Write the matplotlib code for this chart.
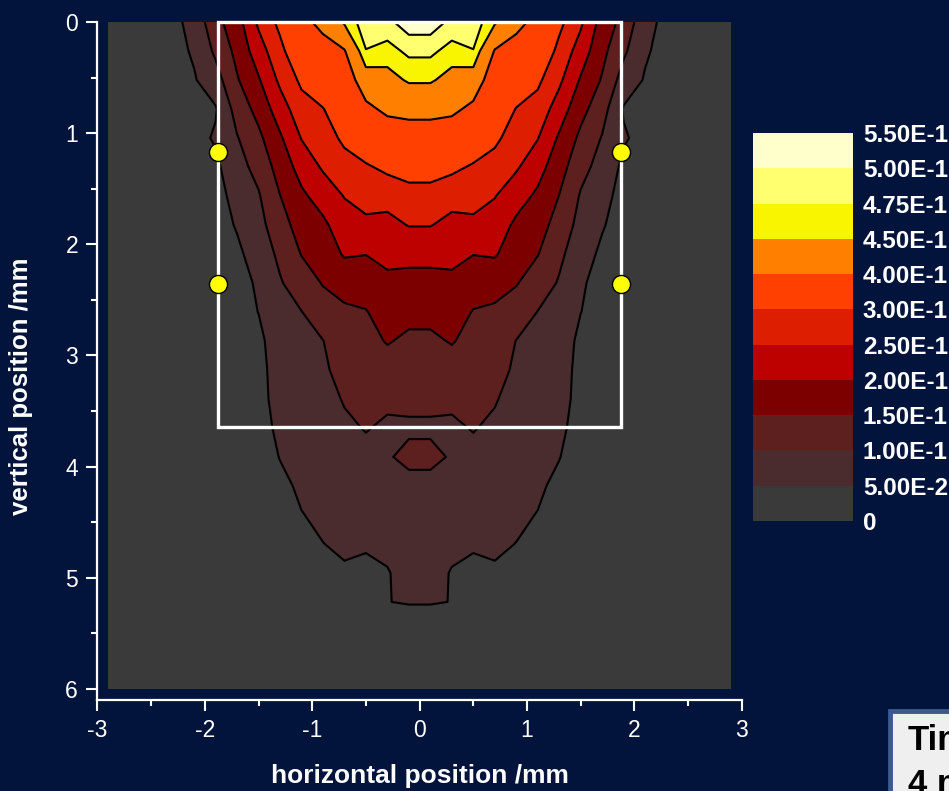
import matplotlib.pyplot as plt
import numpy as np
from matplotlib.patches import Rectangle
from matplotlib.ticker import MultipleLocator

plt.rcParams['font.family'] = ['Liberation Sans', 'DejaVu Sans']
plt.rcParams['axes.unicode_minus'] = False

# scan grid: 30 columns across (mm), 24 rows down (mm)
x_pos = np.linspace(-2.9, 2.9, 30)
y_pos = np.linspace(0, 6, 24)

# depth profiles of the right half, one list per column x = 0.1, 0.3 ... 2.9 mm
right_cols = [
    [0.515, 0.481, 0.454, 0.417, 0.371, 0.321, 0.282, 0.252, 0.2135, 0.185, 0.162, 0.142,
     0.125, 0.108, 0.095, 0.108, 0.090, 0.081, 0.0719, 0.061, 0.052, 0.030, 0.024, 0.018],
    [0.493, 0.465, 0.438, 0.411, 0.367, 0.3115, 0.267, 0.236, 0.212, 0.190, 0.172, 0.153,
     0.131, 0.107, 0.094, 0.097, 0.0755, 0.0664, 0.0572, 0.0481, 0.0495, 0.029, 0.023, 0.017],
    [0.490, 0.474, 0.431, 0.388, 0.338, 0.294, 0.268, 0.2395, 0.201, 0.1725, 0.1476, 0.136,
     0.125, 0.1134, 0.102, 0.090, 0.078, 0.0658, 0.0538, 0.0417, 0.035, 0.028, 0.022, 0.016],
    [0.455, 0.397, 0.368, 0.339, 0.310, 0.281, 0.252, 0.228, 0.205, 0.167, 0.1423, 0.129,
     0.116, 0.103, 0.093, 0.0835, 0.074, 0.0648, 0.0555, 0.046, 0.038, 0.030, 0.024, 0.018],
    [0.417, 0.376, 0.336, 0.298, 0.277, 0.256, 0.221, 0.190, 0.172, 0.153, 0.127, 0.099,
     0.0928, 0.0856, 0.0784, 0.0711, 0.0639, 0.0567, 0.0495, 0.042, 0.035, 0.028, 0.022, 0.016],
    [0.383, 0.347, 0.310, 0.280, 0.252, 0.2186, 0.191, 0.1716, 0.152, 0.1245, 0.099, 0.0919,
     0.0847, 0.0776, 0.0704, 0.0633, 0.0562, 0.0488, 0.042, 0.035, 0.029, 0.023, 0.018, 0.013],
    [0.313, 0.286, 0.260, 0.2263, 0.193, 0.171, 0.149, 0.1295, 0.1096, 0.096, 0.0887, 0.0812,
     0.0737, 0.0662, 0.0588, 0.0513, 0.041, 0.037, 0.030, 0.025, 0.020, 0.016, 0.012, 0.010],
    [0.259, 0.227, 0.195, 0.166, 0.139, 0.115, 0.0957, 0.0845, 0.0733, 0.056, 0.0508, 0.037,
     0.034, 0.036, 0.034, 0.031, 0.028, 0.025, 0.022, 0.019, 0.016, 0.013, 0.011, 0.009],
    [0.180, 0.1636, 0.1456, 0.120, 0.097, 0.083, 0.0686, 0.0544, 0.040, 0.034, 0.030, 0.027,
     0.024, 0.022, 0.020, 0.018, 0.016, 0.014, 0.012, 0.011, 0.010, 0.009, 0.008, 0.007],
    [0.134, 0.109, 0.079, 0.046, 0.055, 0.040, 0.030, 0.027, 0.025, 0.022, 0.020, 0.018,
     0.016, 0.015, 0.014, 0.013, 0.012, 0.011, 0.010, 0.009, 0.008, 0.007, 0.006, 0.005],
    [0.066, 0.056, 0.046, 0.040, 0.035, 0.030, 0.026, 0.023, 0.021, 0.019, 0.017, 0.015,
     0.014, 0.013, 0.012, 0.011, 0.010, 0.009, 0.008, 0.007, 0.006, 0.005, 0.005, 0.004],
    [0.037, 0.033, 0.030, 0.027, 0.024, 0.021, 0.019, 0.017, 0.015, 0.014, 0.013, 0.012,
     0.011, 0.010, 0.009, 0.008, 0.007, 0.006, 0.006, 0.005, 0.005, 0.004, 0.004, 0.003],
    [0.025, 0.022, 0.020, 0.018, 0.016, 0.014, 0.013, 0.012, 0.011, 0.010, 0.009, 0.008,
     0.007, 0.007, 0.006, 0.006, 0.005, 0.005, 0.004, 0.004, 0.003, 0.003, 0.003, 0.002],
    [0.018, 0.016, 0.014, 0.013, 0.012, 0.011, 0.010, 0.009, 0.008, 0.007, 0.006, 0.006,
     0.005, 0.005, 0.004, 0.004, 0.004, 0.003, 0.003, 0.003, 0.002, 0.002, 0.002, 0.002],
    [0.012, 0.011, 0.010, 0.009, 0.008, 0.007, 0.007, 0.006, 0.005, 0.005, 0.004, 0.004,
     0.004, 0.003, 0.003, 0.003, 0.002, 0.002, 0.002, 0.002, 0.002, 0.001, 0.001, 0.001],
]

levels = [0, 0.05, 0.10, 0.15, 0.20, 0.25, 0.30, 0.40, 0.45, 0.475, 0.50, 0.55]
level_labels = ['0', '5.00E-2', '1.00E-1', '1.50E-1', '2.00E-1', '2.50E-1',
                '3.00E-1', '4.00E-1', '4.50E-1', '4.75E-1', '5.00E-1', '5.50E-1']
band_colors = ['#3a3a3a', '#4a2b2e', '#5e1f1f', '#7c0000', '#bd0000', '#de1e00',
               '#ff4000', '#ff8000', '#f9f400', '#ffff70', '#ffffcc']

# sampling window and probe positions (mm)
roi_x, roi_w = -1.88, 3.76
roi_depth = 3.64
probe_x = [-1.88, -1.88, 1.88, 1.88]
probe_y = [1.17, 2.36, 1.17, 2.36]

bg = '#02143b'

# scan is symmetric about x = 0, so mirror the right half
half = np.array(right_cols).T
Z = np.hstack([half[:, ::-1], half])

fig = plt.figure(figsize=(9.49, 7.91), dpi=100, facecolor=bg)
ax = fig.add_axes([0.1027, 0.1150, 0.6789, 0.8572])
ax.set_facecolor(bg)

cf = ax.contourf(x_pos, y_pos, Z, levels=levels, colors=band_colors)
ax.contour(x_pos, y_pos, Z, levels=levels[1:-1], colors='black', linewidths=1.5)

ax.add_patch(Rectangle((roi_x, 0), roi_w, roi_depth, fill=False, ec='white',
                       lw=2.4, clip_on=False, zorder=5))
ax.plot(probe_x, probe_y, 'o', ls='none', ms=13, mfc='#ffff00', mec='black',
        mew=1.0, clip_on=False, zorder=6)

ax.set_xlim(-3, 3)
ax.set_ylim(6.1, 0)
ax.set_xticks(range(-3, 4))
ax.set_yticks(range(0, 7))
ax.xaxis.set_minor_locator(MultipleLocator(0.5))
ax.yaxis.set_minor_locator(MultipleLocator(0.5))

for side in ['top', 'right']:
    ax.spines[side].set_visible(False)
for side in ['left', 'bottom']:
    ax.spines[side].set_color('white')
    ax.spines[side].set_linewidth(1.6)

ax.tick_params(which='both', direction='out', colors='white', width=1.5)
ax.tick_params(which='major', length=8, labelsize=16.5, pad=6)
ax.tick_params(which='minor', length=4)

ax.set_xlabel('horizontal position /mm', fontsize=19, fontweight='bold', color='white')
ax.xaxis.set_label_coords(0.5, -0.095)
ax.set_ylabel('vertical position /mm', fontsize=18.5, fontweight='bold', color='white')
ax.yaxis.set_label_coords(-0.1, 0.463)

# colour scale
cax = fig.add_axes([0.7935, 0.3413, 0.1054, 0.4905])
cb = fig.colorbar(cf, cax=cax, ticks=levels)
cb.set_ticklabels(level_labels)
cb.outline.set_visible(False)
cax.tick_params(length=0, pad=7, labelsize=17.5, labelcolor='white')
for t in cax.get_yticklabels():
    t.set_fontweight('bold')

# caption box at the lower right corner
fig.add_artist(Rectangle((0.9378, -0.05), 0.2, 0.1511, transform=fig.transFigure,
                         fc='#efefef', ec='#3b5b8d', lw=3.5))
fig.text(0.9568, 0.085, 'Time\n4 ms', fontsize=25, fontweight='bold', color='black',
         va='top', ha='left', linespacing=1.45)

fig.savefig('out.png', dpi=100, facecolor=bg)
